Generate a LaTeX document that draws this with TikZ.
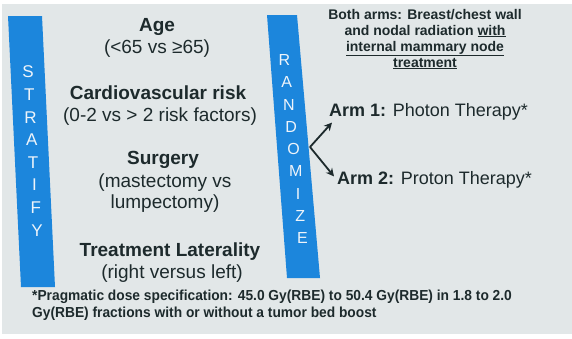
\documentclass[tikz,border=0pt]{standalone}
\usepackage{fontspec}
\setmainfont{Liberation Sans}
\newfontfamily\narrowfont[FakeStretch=0.95]{Liberation Sans}
\usetikzlibrary{arrows.meta}
\definecolor{slidebg}{HTML}{E2E7E8}
\definecolor{barblue}{HTML}{1C86DC}
\definecolor{ink}{HTML}{1D2A2C}
\definecolor{barletter}{HTML}{EEF4FA}
\tikzset{
  bar/.style={fill=barblue, draw=none},
  barltr/.style={text=barletter, inner sep=0pt},
  head/.style={text=ink, font=\fontsize{19}{22}\selectfont\bfseries, inner sep=0pt},
  sub/.style={text=ink, font=\fontsize{19}{22}\selectfont, inner sep=0pt},
  both/.style={text=ink, font=\fontsize{14}{16}\selectfont\bfseries, align=center, inner sep=0pt},
  arm/.style={text=ink, font=\fontsize{18}{20}\selectfont, inner sep=0pt, anchor=west},
  foot/.style={text=ink, font=\narrowfont\fontsize{14.5}{16}\selectfont\bfseries, inner sep=0pt, anchor=west},
  armarrow/.style={draw=ink, line width=1.8pt, -{Stealth[length=8pt,width=8pt]}}
}
\begin{document}
\begin{tikzpicture}[x=1pt,y=-1pt]
\useasboundingbox (0,0) rectangle (572,338);
\fill[white] (0,0) rectangle (572,338);
\fill[slidebg] (2,4) rectangle (572,334);
% bars
\fill[bar] (8,16) -- (42,16) -- (55,287) -- (21,287) -- cycle;
\fill[bar] (267,15) -- (297,15) -- (320,278) -- (287,278) -- cycle;
\foreach \l [count=\i from 0] in {S,T,R,A,T,I,F,Y}
  \node[barltr, font=\fontsize{17}{17}\selectfont] (s\i) at ({28+(22.6*\i)*0.057},{72+22.6*\i}) {\l};
\foreach \l [count=\i from 0] in {R,A,N,D,O,M,I,Z,E}
  \node[barltr, font=\fontsize{16}{16}\selectfont] (r\i) at ({284.5+(22.25*\i)*0.101},{60+22.25*\i}) {\l};
% left column
\node[head] (age) at (157,27) {Age};
\node[sub] (agev) at (157,49) {(<65 vs ≥65)};
\node[head] (cv) at (158,93) {Cardiovascular risk};
\node[sub] (cvv) at (160,117) {(0-2 vs > 2 risk factors)};
\node[head] (surg) at (163,160) {Surgery};
\node[sub] (surg1) at (165,183) {(mastectomy vs};
\node[sub] (surg2) at (165,204) {lumpectomy)};
\node[head] (lat) at (170,252) {Treatment Laterality};
\node[sub] (latv) at (172,274) {(right versus left)};
% right column
\node[both] (arms) at (425,39) {Both arms: Breast/chest wall\\and nodal radiation \underline{with}\\\underline{internal mammary node}\\\underline{treatment}};
\node[arm] (arm1) at (329,112) {\textbf{Arm 1:} Photon Therapy*};
\node[arm] (arm2) at (337,180) {\textbf{Arm 2:} Proton Therapy*};
\coordinate (fork) at (310,147);
\draw[armarrow] (fork) -- ([xshift=3pt,yshift=-2pt]arm1.south west);
\draw[armarrow] (fork) -- ([xshift=-3pt,yshift=-5pt]arm2.north west);
% footnote
\node[foot] (f1) at (32,297) {*Pragmatic dose specification: 45.0 Gy(RBE) to 50.4 Gy(RBE) in 1.8 to 2.0};
\node[foot] (f2) at (32,314) {Gy(RBE) fractions with or without a tumor bed boost};
\end{tikzpicture}
\end{document}
